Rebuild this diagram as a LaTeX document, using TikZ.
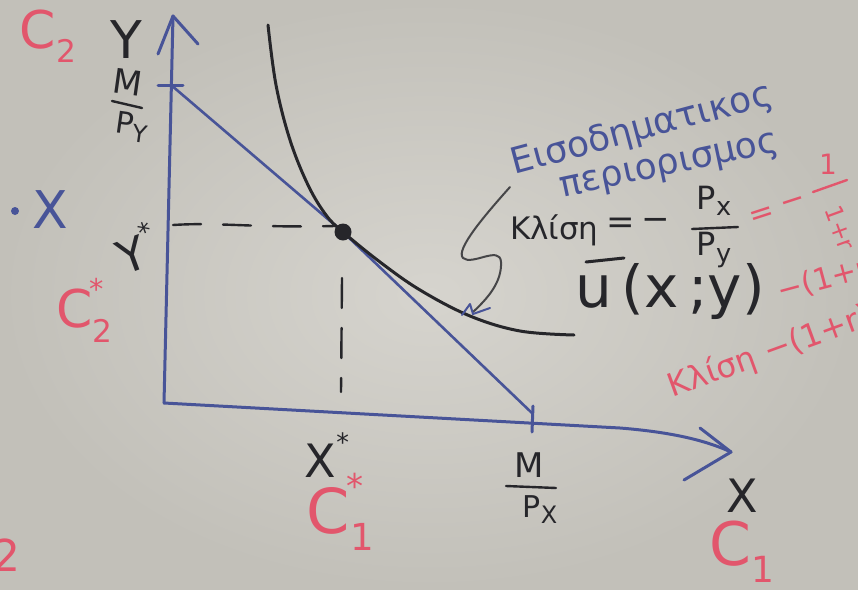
\documentclass[tikz,border=0pt]{standalone}
\usepackage{fontspec}
\setmainfont{DejaVu Sans}
\usetikzlibrary{arrows.meta}
\definecolor{board}{RGB}{194,192,185}
\definecolor{boardlight}{RGB}{214,212,206}
\definecolor{bink}{RGB}{72,84,152}
\definecolor{kink}{RGB}{38,38,42}
\definecolor{gink}{RGB}{70,70,72}
\definecolor{rink}{RGB}{226,86,108}
\newcommand\fs[1]{\fontsize{#1}{#1}\selectfont}
\newcommand\subsc[1]{\raisebox{-0.28em}{\fontsize{0.6em}{0.6em}\selectfont #1}}
\newcommand\subbig[1]{\raisebox{-0.2em}{\fontsize{0.8em}{0.8em}\selectfont #1}}
\newcommand\supsc[1]{\raisebox{0.55em}{\fontsize{0.55em}{0.55em}\selectfont #1}}
\begin{document}
\begin{tikzpicture}[x=1pt,y=-1pt,
  axis/.style={draw=bink,line width=3pt,line cap=round,line join=round},
  budget/.style={draw=bink,line width=2.6pt,line cap=round,line join=round},
  curve/.style={draw=kink,line width=3pt,line cap=round,line join=round},
  guide/.style={draw=kink,line width=2.4pt,line cap=round,dash pattern=on 28pt off 22pt},
  pointer/.style={draw=gink,line width=2pt,line cap=round,line join=round},
  fracbar/.style={line width=2.4pt,line cap=round},
  lbl/.style={inner sep=0pt,outer sep=0pt},
  redlbl/.style={lbl,text=rink},
  blklbl/.style={lbl,text=kink},
  bluelbl/.style={lbl,text=bink}]
\shade[inner color=boardlight,outer color=board] (0,0) rectangle (858,589);
\useasboundingbox (0,0) rectangle (858,589);

% axes
\coordinate (O) at (164,403);
\coordinate (Ytip) at (173,16);
\coordinate (Yl) at (158,54);
\coordinate (Yr) at (198,44);
\coordinate (Xmid) at (620,428);
\coordinate (Xtip) at (731,452);
\coordinate (Xu) at (700,428);
\coordinate (Xd) at (684,480);
\draw[axis] (O) -- (Ytip);
\draw[axis] (Yl) -- (Ytip) -- (Yr);
\draw[axis] (O) -- (Xmid) .. controls (670,432) and (705,440) .. (Xtip);
\draw[axis] (Xu) -- (Xtip) -- (Xd);

% ticks
\coordinate (MPy) at (171,85);
\coordinate (MPx) at (533,414);
\draw[axis] (158,85) -- (183,85);
\draw[axis] (533,406) -- (532,432);

% budget line and tangency
\coordinate (E) at (343,232);
\draw[budget] (MPy) -- (E) -- (MPx);

% guides
\coordinate (Ey) at (173,225);
\coordinate (Ex) at (341,392);
\draw[guide] (Ey) .. controls (220,222) and (250,228) .. (335,226);
\draw[draw=kink,line width=2.4pt,line cap=round,dash pattern=on 30pt off 20pt] (342,278) -- (Ex);

% indifference curve
\node[blklbl] (U) at (670,292) {\fs{58}u\,(x\,;y)};
\draw[draw=kink,line width=3pt,line cap=round] (586,262) -- (624,258);
\draw[curve] plot[smooth,tension=0.6] coordinates {(268,25) (276,85) (290,140) (308,185) (326,215) (343,232) (380,262) (420,290) (470,316) (520,331) (574,335)};
\fill[kink] (E) circle (8.5pt);

% pointer squiggle
\coordinate (Pa) at (510,187);
\coordinate (Pb) at (473,312);
\draw[pointer] (Pa) .. controls (485,215) and (455,250) .. (463,258)
  .. controls (472,266) and (500,245) .. (501,262)
  .. controls (502,282) and (488,298) .. (Pb);
\draw[draw=bink,line width=2pt,line cap=round,line join=round] (462,315) -- (470,304) -- (473,314) -- (490,308);

% labels left
\node[redlbl] (C2) at (48,36) {\fs{52}C\subsc{2}};
\node[blklbl] (Ylab) at (126,40) {\fs{52}Y};
\node[blklbl,rotate=-8] (Mnum1) at (128,82) {\fs{34}M};
\draw[fracbar,draw=kink] (112,101) -- (142,108);
\node[blklbl,rotate=-8] (Pden1) at (132,127) {\fs{30}P\subbig{Y}};
\fill[bink] (15,211) circle (4pt);
\node[bluelbl] (dotX) at (50,210) {\fs{52}X};
\node[blklbl,rotate=20] (Ystar) at (136,248) {\fs{46}Y\supsc{*}};
\node[redlbl] (C2s) at (80,310) {\fs{52}C\subsc{2}\hspace{-0.45em}\supsc{*}};

% labels bottom
\node[blklbl] (Xstar) at (327,455) {\fs{46}X\supsc{*}};
\node[redlbl] (C1s) at (335,512) {\fs{62}C\subsc{1}\hspace{-0.45em}\supsc{*}};
\node[blklbl] (Mnum2) at (529,465) {\fs{34}M};
\draw[fracbar,draw=kink] (506,486) -- (556,488);
\node[blklbl] (Pden2) at (540,510) {\fs{30}P\subbig{X}};
\node[blklbl] (Xlab) at (742,496) {\fs{46}X};
\node[redlbl] (C1) at (742,552) {\fs{60}C\subsc{1}};
\node[redlbl,anchor=west] (two) at (-8,555) {\fs{44}2};

% Greek annotations
\node[bluelbl,rotate=15] (eis) at (642,130) {\fs{36}Εισοδηματικος};
\node[bluelbl,rotate=12] (per) at (670,168) {\fs{36}περιορισμος};
\node[blklbl,anchor=west] (kl) at (510,230) {\fs{31}Κλίση};
\node[blklbl] (keq) at (621,226) {\fs{34}=};
\node[blklbl] (kmin) at (656,224) {\fs{34}−};
\node[blklbl] (Pxn) at (714,201) {\fs{32}P\subbig{x}};
\draw[fracbar,draw=kink] (692,229) -- (738,227);
\node[blklbl] (Pyd) at (714,250) {\fs{32}P\subbig{y}};

% red annotations
\node[redlbl,rotate=18] (req) at (762,216) {\fs{30}=};
\node[redlbl,rotate=18] (rmin) at (794,205) {\fs{30}−};
\node[redlbl] (rone) at (828,164) {\fs{28}1};
\draw[fracbar,draw=rink] (813,192) -- (847,180);
\node[redlbl,rotate=-70] (rden) at (840,228) {\fs{24}1+r};
\node[redlbl,anchor=west,rotate=15] (red2) at (778,292) {\fs{30}−(1+r)};
\node[redlbl,rotate=20] (red3) at (770,352) {\fs{32}Κλίση −(1+r)};
\end{tikzpicture}
\end{document}
